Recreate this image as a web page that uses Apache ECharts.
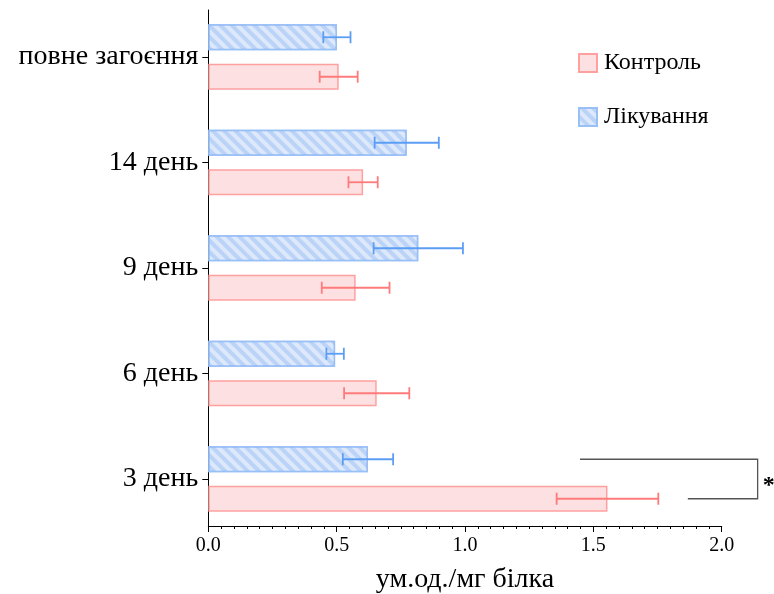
<!DOCTYPE html>
<html>
<head>
<meta charset="utf-8">
<script src="https://cdn.jsdelivr.net/npm/echarts@6/dist/echarts.min.js"></script>
<style>
  html, body { margin: 0; padding: 0; background: #fff; }
  #chart { width: 774px; height: 594px; }
</style>
</head>
<body>
<div id="chart"></div>
<script>
// Categories listed bottom-to-top on the vertical axis
const categories = ['3 день', '6 день', '9 день', '14 день', 'повне загоєння'];
const seriesNames = ['Контроль', 'Лікування'];
const controlMean = [1.555, 0.656, 0.574, 0.603, 0.508];
const controlErr  = [0.198, 0.127, 0.132, 0.057, 0.074];
const treatMean   = [0.622, 0.494, 0.818, 0.773, 0.501];
const treatErr    = [0.098, 0.034, 0.174, 0.125, 0.053];
const xTickStep = 0.5;
const xMax = 2.0;
// Significance bracket: [category index, top arm start, bottom arm start, right edge, mark]
const sigBracket = [[0, 1.448, 1.868, 2.14, '*']];

const FONT = '"Liberation Serif", "Times New Roman", serif';
const BAR_W = 26;
const BAR_GAP = 13.5;
const HALF_STEP = (BAR_W + BAR_GAP) / 2;   // bar centre offset from category centre
const CAP = 12;

const chart = echarts.init(document.getElementById('chart'), null, { renderer: 'canvas' });

function errorRender(side, color) {
  return function (params, api) {
    const idx = api.value(0);
    const lo = api.coord([api.value(1), idx]);
    const hi = api.coord([api.value(2), idx]);
    const y = lo[1] + side * HALF_STEP;
    const st = { stroke: color, lineWidth: 1.8 };
    return {
      type: 'group',
      children: [
        { type: 'line', shape: { x1: lo[0], y1: y, x2: hi[0], y2: y }, style: st },
        { type: 'line', shape: { x1: lo[0], y1: y - CAP / 2, x2: lo[0], y2: y + CAP / 2 }, style: st },
        { type: 'line', shape: { x1: hi[0], y1: y - CAP / 2, x2: hi[0], y2: y + CAP / 2 }, style: st }
      ]
    };
  };
}

function bracketRender(params, api) {
  const idx = api.value(0);
  const topStart = api.coord([api.value(1), idx]);
  const botStart = api.coord([api.value(2), idx]);
  const right = api.coord([api.value(3), idx]);
  const yTop = topStart[1] - HALF_STEP;
  const yBot = botStart[1] + HALF_STEP;
  return {
    type: 'group',
    children: [
      {
        type: 'polyline',
        shape: { points: [[topStart[0], yTop], [right[0], yTop], [right[0], yBot], [botStart[0], yBot]] },
        style: { stroke: '#555', lineWidth: 1.3, fill: null }
      },
      {
        type: 'text',
        x: right[0] + 5,
        y: (yTop + yBot) / 2 + 7,
        style: {
          text: api.value(4),
          font: 'bold 24px ' + FONT,
          fill: '#000',
          align: 'left',
          verticalAlign: 'middle'
        }
      }
    ]
  };
}

const option = {
  animation: false,
  backgroundColor: '#fff',
  grid: [
    { left: 208.3, right: 52.3, top: 10, bottom: 68, outerBoundsMode: 'none', containLabel: false },
    { left: 208.3, right: 52.3, top: 4.25, bottom: 62.25, outerBoundsMode: 'none', containLabel: false }
  ],
  legend: {
    orient: 'vertical',
    left: 578,
    top: 51,
    padding: 0,
    itemWidth: 18,
    itemHeight: 18,
    itemGap: 30,
    icon: 'rect',
    data: seriesNames,
    textStyle: { fontFamily: FONT, fontSize: 24, color: '#000', padding: [0, 0, 0, 2] }
  },
  xAxis: [
    {
      gridIndex: 0,
      type: 'value',
      min: 0,
      max: xMax,
      interval: xTickStep,
      axisLine: { show: true, lineStyle: { color: '#000', width: 1 } },
      axisTick: { show: true, length: 6, lineStyle: { color: '#000' } },
      minorTick: { show: true, splitNumber: 10, length: 3, lineStyle: { color: '#000' } },
      splitLine: { show: false },
      minorSplitLine: { show: false },
      axisLabel: { formatter: v => v.toFixed(1), fontFamily: FONT, fontSize: 20, color: '#000', margin: 10 },
      name: 'ум.од./мг білка',
      nameLocation: 'middle',
      nameGap: 40,
      nameTextStyle: { fontFamily: FONT, fontSize: 28, color: '#000' }
    },
    { gridIndex: 1, type: 'value', min: 0, max: xMax, show: false }
  ],
  yAxis: [
    {
      gridIndex: 0,
      type: 'value',
      min: 0,
      max: 1,
      axisLine: { show: true, lineStyle: { color: '#000', width: 1 } },
      axisTick: { show: false },
      axisLabel: { show: false },
      splitLine: { show: false }
    },
    {
      gridIndex: 1,
      type: 'category',
      data: categories,
      axisLine: { show: false },
      axisTick: { show: true, alignWithLabel: true, length: 6, lineStyle: { color: '#000' } },
      axisLabel: { fontFamily: FONT, fontSize: 28, color: '#000', margin: 10 },
      splitLine: { show: false }
    }
  ],
  series: [
    {
      // listed first so it takes the upper slot within each category
      name: 'Лікування',
      type: 'bar',
      xAxisIndex: 1,
      yAxisIndex: 1,
      data: treatMean,
      barWidth: BAR_W,
      barGap: (BAR_GAP / BAR_W * 100) + '%',
      itemStyle: {
        color: '#bad3f7',
        borderColor: '#98bff6',
        borderWidth: 1.5,
        decal: {
          symbol: 'rect',
          symbolSize: 1,
          dashArrayX: [1, 0],
          dashArrayY: [3.3, 3.3],
          rotation: Math.PI / 4,
          color: 'rgba(255,255,255,0.5)'
        }
      }
    },
    {
      name: 'Контроль',
      type: 'bar',
      xAxisIndex: 1,
      yAxisIndex: 1,
      data: controlMean,
      barWidth: BAR_W,
      barGap: (BAR_GAP / BAR_W * 100) + '%',
      itemStyle: { color: '#fde0e1', borderColor: '#ffa0a0', borderWidth: 1.5 }
    },
    {
      type: 'custom',
      xAxisIndex: 1,
      yAxisIndex: 1,
      silent: true,
      z: 5,
      encode: { x: [1, 2], y: 0 },
      data: categories.map((c, i) => [i, controlMean[i] - controlErr[i], controlMean[i] + controlErr[i]]),
      renderItem: errorRender(1, '#ff7b7b')
    },
    {
      type: 'custom',
      xAxisIndex: 1,
      yAxisIndex: 1,
      silent: true,
      z: 5,
      encode: { x: [1, 2], y: 0 },
      data: categories.map((c, i) => [i, treatMean[i] - treatErr[i], treatMean[i] + treatErr[i]]),
      renderItem: errorRender(-1, '#5c9ef5')
    },
    {
      type: 'custom',
      xAxisIndex: 1,
      yAxisIndex: 1,
      silent: true,
      clip: false,
      z: 5,
      encode: { x: [1, 2, 3], y: 0 },
      data: sigBracket,
      renderItem: bracketRender
    }
  ]
};

chart.setOption(option);
</script>
</body>
</html>
